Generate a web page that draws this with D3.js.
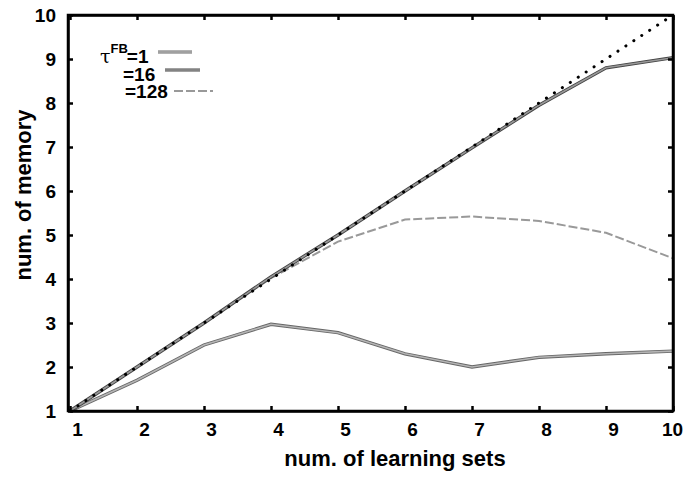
<!DOCTYPE html>
<html>
<head>
<meta charset="utf-8">
<title>num. of memory</title>
<script src="https://cdn.jsdelivr.net/npm/d3@7"></script>
<style>
  html, body { margin: 0; padding: 0; background: #fff; overflow: hidden }
  svg { font-family: "Liberation Sans", Arial, sans-serif; font-weight: bold }
</style>
</head>
<body>
<div id="chart"></div>
<script>
  const learningSets = [1, 2, 3, 4, 5, 6, 7, 8, 9, 10]
  const ideal = [1, 2, 3, 4, 5, 6, 7, 8, 9, 10]
  const tau1 = [1, 1.7, 2.5, 2.97, 2.78, 2.3, 2.0, 2.22, 2.3, 2.36]
  const tau16 = [1, 2, 3, 4.05, 5.0, 6.0, 6.98, 7.95, 8.8, 9.03]
  const tau128 = [1, 2, 3, 4.02, 4.85, 5.35, 5.42, 5.32, 5.05, 4.47]
  const xTicks = [1, 2, 3, 4, 5, 6, 7, 8, 9, 10]
  const yTicks = [1, 2, 3, 4, 5, 6, 7, 8, 9, 10]

  const W = 684, H = 481
  const svg = d3.select('#chart').append('svg')
    .attr('width', W).attr('height', H)

  const x = d3.scaleLinear().domain([1, 10]).range([70, 673])
  const y = d3.scaleLinear().domain([1, 10]).range([411, 15])

  const line = ys => d3.line()
    .x((d, i) => x(learningSets[i]))
    .y(d => y(d))(ys)

  // curves
  svg.append('path').attr('d', line(tau1))
    .attr('fill', 'none').attr('stroke', '#666').attr('stroke-width', 3.4)
  svg.append('path').attr('d', line(tau1))
    .attr('fill', 'none').attr('stroke', '#b5b5b5').attr('stroke-width', 1.6)

  svg.append('path').attr('d', line(tau128))
    .attr('fill', 'none').attr('stroke', '#999').attr('stroke-width', 2)
    .attr('stroke-dasharray', '9,3')

  svg.append('path').attr('d', line(tau16))
    .attr('fill', 'none').attr('stroke', '#444').attr('stroke-width', 3.4)
  svg.append('path').attr('d', line(tau16))
    .attr('fill', 'none').attr('stroke', '#999').attr('stroke-width', 1.6)

  svg.append('path').attr('d', line(ideal))
    .attr('fill', 'none').attr('stroke', '#000').attr('stroke-width', 3)
    .attr('stroke-linecap', 'round')
    .attr('stroke-dasharray', '0.1,9.4')

  // axes
  const tickLen = 5
  svg.append('g').attr('class', 'xaxis').attr('transform', 'translate(0,411)')
    .call(d3.axisBottom(x).tickValues(xTicks).tickSizeInner(-tickLen).tickSizeOuter(0).tickPadding(12))
  svg.append('g').attr('transform', 'translate(0,15)')
    .call(d3.axisTop(x).tickValues(xTicks).tickSizeInner(-tickLen).tickSizeOuter(0).tickFormat(''))
  svg.append('g').attr('transform', 'translate(68,0)')
    .call(d3.axisLeft(y).tickValues(yTicks).tickSizeInner(-tickLen).tickSizeOuter(0).tickPadding(12))
  svg.append('g').attr('transform', 'translate(673,0)')
    .call(d3.axisRight(y).tickValues(yTicks).tickSizeInner(-tickLen).tickSizeOuter(0).tickFormat(''))

  svg.selectAll('.domain').attr('stroke', '#000').attr('stroke-width', 2.5)
  svg.selectAll('.tick line').attr('stroke', '#000').attr('stroke-width', 2.5)
  svg.selectAll('.tick text')
    .attr('font-family', '"Liberation Sans", Arial, sans-serif')
    .attr('font-size', 19).attr('font-weight', 'bold').attr('fill', '#000')
  svg.selectAll('.xaxis .tick text').attr('dx', (d, i, n) => i === n.length - 1 ? -1 : 7)

  // frame
  svg.append('rect').attr('x', 68).attr('y', 15).attr('width', 605).attr('height', 396)
    .attr('fill', 'none').attr('stroke', '#000').attr('stroke-width', 2.5)

  // axis titles
  svg.append('text').attr('x', 395).attr('y', 466).attr('text-anchor', 'middle')
    .attr('font-size', 22).text('num. of learning sets')
  svg.append('text').attr('transform', 'translate(31,195) rotate(-90)')
    .attr('text-anchor', 'middle').attr('font-size', 22).text('num. of memory')

  // legend
  const lg = svg.append('g')
  const tauText = lg.append('text').attr('x', 100).attr('y', 63).attr('font-size', 19)
  tauText.append('tspan').attr('font-family', '"DejaVu Serif", serif').attr('font-weight', 'normal').text('τ')
  tauText.append('tspan').attr('dy', -10).attr('font-size', 13).text('FB')
  tauText.append('tspan').attr('dy', 10).attr('dx', -1).text('=1')
  lg.append('text').attr('x', 123).attr('y', 81).attr('font-size', 19).text('=16')
  lg.append('text').attr('x', 125).attr('y', 98).attr('font-size', 19).text('=128')

  lg.append('line').attr('x1', 158).attr('x2', 192).attr('y1', 52).attr('y2', 52)
    .attr('stroke', '#666').attr('stroke-width', 3)
  lg.append('line').attr('x1', 158).attr('x2', 192).attr('y1', 52).attr('y2', 52)
    .attr('stroke', '#b5b5b5').attr('stroke-width', 1.4)
  lg.append('line').attr('x1', 165).attr('x2', 200).attr('y1', 70).attr('y2', 70)
    .attr('stroke', '#444').attr('stroke-width', 3)
  lg.append('line').attr('x1', 165).attr('x2', 200).attr('y1', 70).attr('y2', 70)
    .attr('stroke', '#999').attr('stroke-width', 1.4)
  lg.append('line').attr('x1', 174).attr('x2', 213).attr('y1', 91).attr('y2', 91)
    .attr('stroke', '#999').attr('stroke-width', 2).attr('stroke-dasharray', '9,3')
</script>
</body>
</html>
